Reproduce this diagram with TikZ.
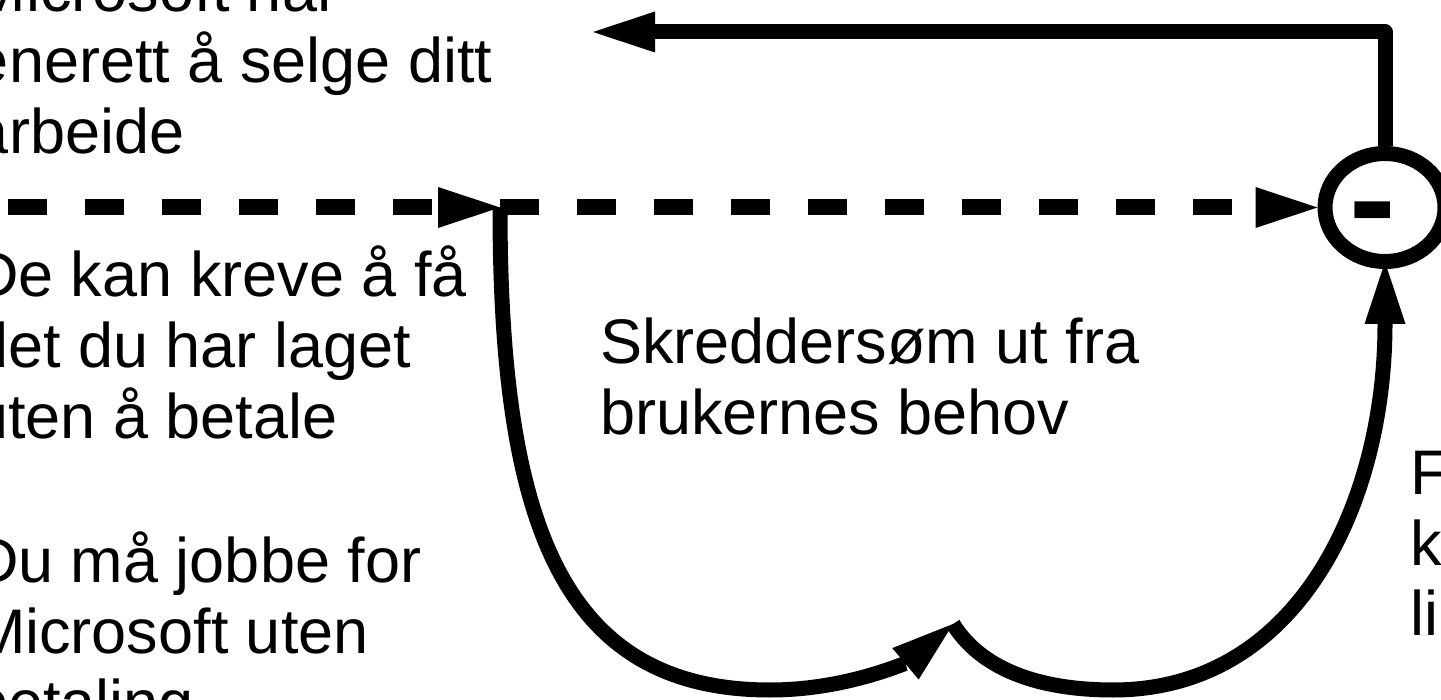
\documentclass[tikz,border=0pt]{standalone}
\usepackage{fontspec}
\setmainfont{Liberation Sans}
\usetikzlibrary{arrows.meta,shapes.geometric}
\newcommand\tlines[1]{\vtop{\baselineskip=71pt\lineskiplimit=-1000pt\lineskip=0pt\halign{##\hfil\cr#1\crcr}}}
\tikzset{
  txt/.style={inner sep=0pt, outer sep=0pt, anchor=base west, font=\fontsize{63pt}{71pt}\selectfont},
  thk/.style={line width=15pt, line join=round},
  dsh/.style={line width=16pt, dash pattern=on 39pt off 38pt},
  bigtip/.tip={Triangle[length=62pt,width=41pt,line width=0pt]}
}
\begin{document}
\begin{tikzpicture}[x=1pt,y=-1pt]
\useasboundingbox (0,0) rectangle (1441,700);
\fill[white] (0,0) rectangle (1441,700);
\clip (0,0) rectangle (1441,700);

% texts
\node[txt] (ta) at (-26,11.5) {\tlines{Microsoft har\cr enerett å selge ditt\cr arbeide}};
\node[txt] (tb) at (-27,296.5) {\tlines{De kan kreve å få\cr det du har laget\cr uten å betale}};
\node[txt] (tc) at (-27,582) {\tlines{Du må jobbe for\cr Microsoft uten\cr betaling}};
\node[txt] (td) at (600,364) {\tlines{Skreddersøm ut fra\cr brukernes behov}};
\node[txt] (te) at (1410,494) {\tlines{F\cr k\cr li}};

% summing circle
\node[draw, ellipse, line width=15pt, minimum width=120pt, minimum height=108pt, inner sep=0pt] (c) at (1385,207.5) {};
\node[inner sep=0pt, anchor=base west, font=\fontsize{140pt}{140pt}\selectfont\bfseries] (minus) at (1349,247) {-};

% coordinates
\coordinate (ttip) at (593,32);
\coordinate (dstart) at (-69,207.5);
\coordinate (mid) at (500,207.5);
\coordinate (cusp) at (953,624);

% connectors
\draw[thk, -{bigtip}] (c.north) |- (ttip);
\draw[dsh, -{bigtip}] (dstart) -- (mid);
\draw[dsh, -{bigtip}] (mid) -- (c.west);
\draw[thk, -{bigtip}] (mid) .. controls (500,520) and (560,690) .. (770,690)
  .. controls (850,690) and (910,660) .. (cusp);
\draw[thk, -{bigtip}] (cusp) .. controls (985,675) and (1050,690) .. (1113,690)
  .. controls (1300,690) and (1385,500) .. ([yshift=7pt]c.south);
\end{tikzpicture}
\end{document}
